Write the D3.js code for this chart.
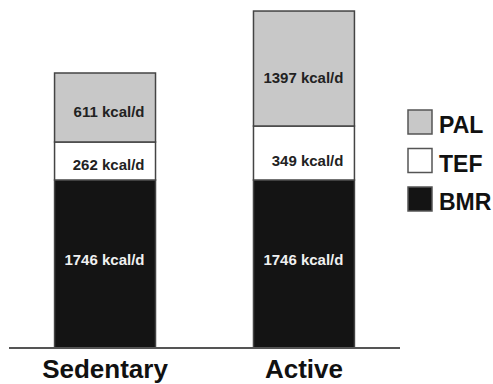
<!DOCTYPE html>
<html>
<head>
<meta charset="utf-8">
<script src="https://cdn.jsdelivr.net/npm/d3@7"></script>
<style>
  body { margin: 0; background: #fff; }
  svg { display: block; font-family: "Liberation Sans", Arial, sans-serif; font-weight: bold; }
</style>
</head>
<body>
<svg id="chart" width="493" height="384"></svg>
<script>
// groups and components, bottom to top
const groups = ["Sedentary", "Active"];
const components = ["BMR", "TEF", "PAL"];
const legendOrder = ["PAL", "TEF", "BMR"];

// printed values (kcal/d)
const labelKcal = {
    Sedentary: [1746, 262, 611],
    Active: [1746, 349, 1397]
};

// the figure is schematic: drawn segment sizes are not to scale with the printed
// values, so these are the sizes (in BMR-equivalent kcal units)
const drawnSize = {
    Sedentary: [1746, 395, 717],
    Active: [1746, 561, 1195]
};

const fills = { BMR: "#141414", TEF: "#ffffff", PAL: "#c8c8c8" };
const textFill = { BMR: "#f0f0f0", TEF: "#222", PAL: "#222" };

const svg = d3.select("#chart");
const baseY = 348;

const x = d3.scaleBand().domain(groups).range([9, 400])
    .paddingInner(0.4925).paddingOuter(0.229);
const y = d3.scaleLinear().domain([0, 3500]).range([baseY, baseY - 3500 * 168 / 1746]);

// stack segments
const segs = [];
groups.forEach(g => {
    let acc = 0;
    components.forEach((c, i) => {
        segs.push({ group: g, comp: c, y0: acc, y1: acc + drawnSize[g][i], kcal: labelKcal[g][i] });
        acc += drawnSize[g][i];
    });
});

// label nudges so text sits where it does in the original
const labelDy = { BMR: 1, TEF: 9, PAL: 10 };

const seg = svg.append("g").selectAll("g.seg")
    .data(segs)
    .join("g")
    .attr("class", "seg");

seg.append("rect")
    .attr("x", d => x(d.group))
    .attr("width", x.bandwidth())
    .attr("y", d => y(d.y1))
    .attr("height", d => y(d.y0) - y(d.y1))
    .attr("fill", d => fills[d.comp])
    .attr("stroke", "#444")
    .attr("stroke-width", 1.5);

seg.append("text")
    .attr("x", d => x(d.group) + x.bandwidth() - 11)
    .attr("y", d => (y(d.y0) + y(d.y1)) / 2 + labelDy[d.comp] + (d.group === "Active" && d.comp !== "BMR" ? 4 : 0))
    .attr("text-anchor", "end")
    .attr("font-size", 15)
    .attr("fill", d => textFill[d.comp])
    .text(d => `${d.kcal} kcal/d`);

// baseline
svg.append("line")
    .attr("x1", 9).attr("x2", 400)
    .attr("y1", baseY).attr("y2", baseY)
    .attr("stroke", "#555")
    .attr("stroke-width", 2);

// category labels
svg.append("g").selectAll("text")
    .data(groups)
    .join("text")
    .attr("x", d => x(d) + x.bandwidth() / 2)
    .attr("y", 378)
    .attr("text-anchor", "middle")
    .attr("font-size", 26)
    .attr("fill", "#111")
    .text(d => d);

// legend
const legend = svg.append("g").selectAll("g")
    .data(legendOrder)
    .join("g")
    .attr("transform", (d, i) => `translate(408, ${110 + i * 38.5})`);

legend.append("rect")
    .attr("width", 24).attr("height", 24)
    .attr("fill", d => fills[d])
    .attr("stroke", "#555")
    .attr("stroke-width", 1.5);

legend.append("text")
    .attr("x", 31)
    .attr("y", 23)
    .attr("font-size", 23)
    .attr("fill", "#111")
    .text(d => d);
</script>
</body>
</html>
